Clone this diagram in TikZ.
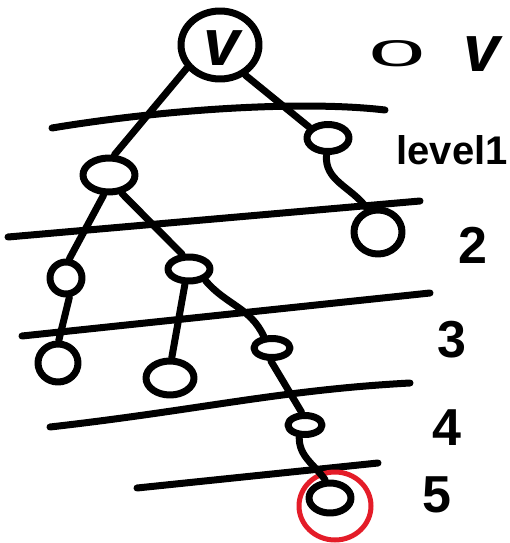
\documentclass[tikz,border=0pt]{standalone}
\usepackage{fontspec}
\usepackage{graphicx}
\setmainfont{Liberation Sans}
\usetikzlibrary{shapes.geometric}
\begin{document}
\begin{tikzpicture}[x=1pt,y=-1pt,
  ink/.style={line width=7pt,line cap=round,line join=round},
  vert/.style={ellipse,draw,ink,inner sep=0pt},
  sep/.style={ink},
  lab/.style={font=\fontsize{52}{52}\selectfont\bfseries,inner sep=0pt},
  vlab/.style={font=\fontsize{66}{66}\selectfont\bfseries\itshape,inner sep=0pt},
  hl/.style={ellipse,draw=hlred,line width=5pt,inner sep=0pt}]
\definecolor{hlred}{RGB}{228,28,40}
\useasboundingbox (0,0) rectangle (510,543);
% separator lines
\draw[sep] (52,128) .. controls (160,110) and (300,100) .. (385,110);
\draw[sep] (8,237) -- (420,201);
\draw[sep] (22,336) -- (430,293);
\draw[sep] (50,427) .. controls (200,410) and (280,390) .. (410,383);
\draw[sep] (137,488) -- (378,463);
% vertices
\node[vert,minimum width=78pt,minimum height=68pt] (root) at (220,45) {};
\node[vlab] (rootv) at (222,48) {v};
\node[vert,minimum width=42pt,minimum height=27pt] (l1R) at (328,138) {};
\node[vert,minimum width=52pt,minimum height=34pt] (l1L) at (109,175) {};
\node[vert,minimum width=48pt,minimum height=44pt] (l2R) at (378,232) {};
\node[vert,minimum width=32pt,minimum height=32pt] (l2a) at (66,278) {};
\node[vert,minimum width=42pt,minimum height=24pt] (l2b) at (189,269) {};
\node[vert,minimum width=40pt,minimum height=38pt] (l3a) at (58,363) {};
\node[vert,minimum width=48pt,minimum height=34pt] (l3b) at (170,378) {};
\node[vert,minimum width=36pt,minimum height=19pt] (l3c) at (272,348) {};
\node[vert,minimum width=34pt,minimum height=19pt] (l4) at (305,425) {};
\node[vert,minimum width=42pt,minimum height=30pt] (l5) at (330,498) {};
\node[hl,minimum width=72pt,minimum height=68pt] (mark) at (335,506) {};
% edges
\draw[ink] (root.-145) -- (l1L.75);
\draw[ink] (root.-50) -- (l1R.150);
\draw[ink] (l1R.-95) to[out=-95,in=125] (l2R.115);
\draw[ink] (l1L.-105) -- (l2a.80);
\draw[ink] (l1L.-55) -- (l2b.115);
\draw[ink] (l2a.-80) -- (l3a.88);
\draw[ink] (l2b.-105) -- (l3b.85);
\draw[ink] (l2b.-35) to[out=-50,in=115] (l3c.125);
\draw[ink] (l3c.-95) -- (l4.105);
\draw[ink] (l4.-115) to[out=-90,in=125] (l5.105);
% level labels
\node[font=\fontsize{60}{60}\selectfont,inner sep=0pt] (t0) at (397,54) {\scalebox{1.7}[0.62]{0}};
\node[vlab] (tv) at (482,54) {v};
\node[lab,font=\fontsize{40}{40}\selectfont\bfseries] (t1) at (452,150) {level1};
\node[lab] (t2) at (473,245) {2};
\node[lab] (t3) at (452,340) {3};
\node[lab] (t4) at (447,428) {4};
\node[lab] (t5) at (437,495) {5};
\end{tikzpicture}
\end{document}
